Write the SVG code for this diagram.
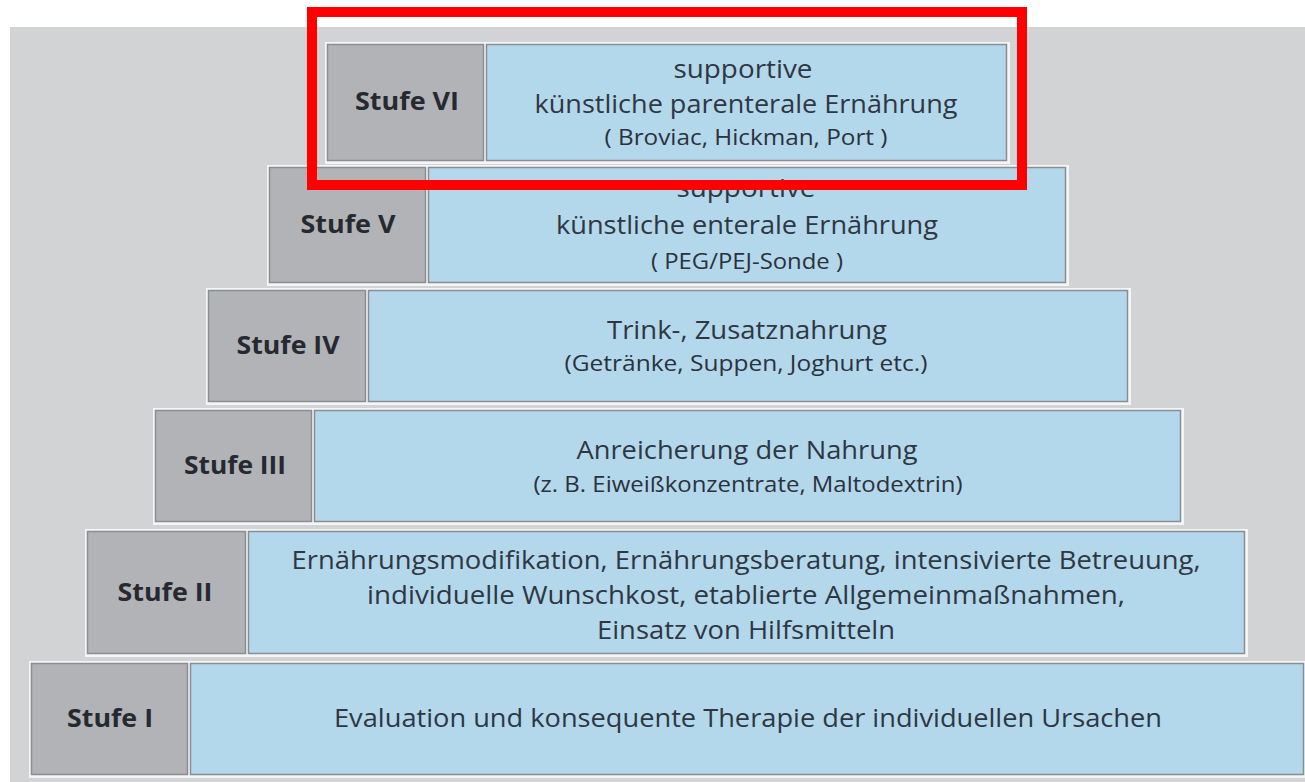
<svg xmlns="http://www.w3.org/2000/svg" width="1305" height="782" viewBox="0 0 1305 782">
<style>
.bg{fill:#d1d3d5}
.out{fill:#f4f5f6}
.lab{fill:#b1b3b6;stroke:#8a8e93;stroke-width:1.5}
.box{fill:#b3d7eb;stroke:#8a8e93;stroke-width:1.5}
.lt{font-family:"Open Sans","Noto Sans",sans-serif;font-weight:bold;font-size:25px;fill:#262a30;text-anchor:middle}
.t{font-family:"Open Sans","Noto Sans",sans-serif;font-size:26px;fill:#2f3743;text-anchor:middle}
.s{font-family:"Open Sans","Noto Sans",sans-serif;font-size:21px;fill:#2b323d;text-anchor:middle}
.hl{fill:none;stroke:#ff0000;stroke-width:10}
</style>
<rect x="0" y="0" width="1305" height="782" fill="#ffffff"/>
<rect class="bg" x="10" y="27" width="1295" height="755"/>
<g id="stufe-1">
<rect class="out" x="29" y="661" width="1276" height="117"/>
<rect class="lab" x="31.5" y="663.5" width="156" height="111"/>
<rect class="box" x="190.5" y="663.5" width="1113" height="111"/>
<text class="lt" x="110" y="727" textLength="86" lengthAdjust="spacingAndGlyphs">Stufe I</text>
<text class="t" x="748" y="727" textLength="828" lengthAdjust="spacingAndGlyphs">Evaluation und konsequente Therapie der individuellen Ursachen</text>
</g>
<g id="stufe-2">
<rect class="out" x="85" y="529" width="1163" height="128"/>
<rect class="lab" x="87.5" y="531.5" width="158" height="122"/>
<rect class="box" x="248.5" y="531.5" width="996" height="122"/>
<text class="lt" x="165" y="601" textLength="95" lengthAdjust="spacingAndGlyphs">Stufe II</text>
<text class="t" x="746" y="569" textLength="909" lengthAdjust="spacingAndGlyphs">Ernährungsmodifikation, Ernährungsberatung, intensivierte Betreuung,</text>
<text class="t" x="746" y="604" textLength="758" lengthAdjust="spacingAndGlyphs">individuelle Wunschkost, etablierte Allgemeinmaßnahmen,</text>
<text class="t" x="746" y="639" textLength="298" lengthAdjust="spacingAndGlyphs">Einsatz von Hilfsmitteln</text>
</g>
<g id="stufe-3">
<rect class="out" x="153" y="408" width="1031" height="117"/>
<rect class="lab" x="155.5" y="410.5" width="156" height="111"/>
<rect class="box" x="314.5" y="410.5" width="866" height="111"/>
<text class="lt" x="235" y="474" textLength="102" lengthAdjust="spacingAndGlyphs">Stufe III</text>
<text class="t" x="747" y="459" textLength="341" lengthAdjust="spacingAndGlyphs">Anreicherung der Nahrung</text>
<text class="s" x="748" y="492" textLength="429" lengthAdjust="spacingAndGlyphs">(z. B. Eiweißkonzentrate, Maltodextrin)</text>
</g>
<g id="stufe-4">
<rect class="out" x="206" y="288" width="925" height="117"/>
<rect class="lab" x="208.5" y="290.5" width="157" height="111"/>
<rect class="box" x="368.5" y="290.5" width="759" height="111"/>
<text class="lt" x="288" y="354" textLength="103" lengthAdjust="spacingAndGlyphs">Stufe IV</text>
<text class="t" x="747" y="339" textLength="280" lengthAdjust="spacingAndGlyphs">Trink-, Zusatznahrung</text>
<text class="s" x="746" y="371" textLength="363" lengthAdjust="spacingAndGlyphs">(Getränke, Suppen, Joghurt etc.)</text>
</g>
<g id="stufe-5">
<rect class="out" x="267" y="165" width="802" height="121"/>
<rect class="lab" x="269.5" y="167.5" width="156" height="115"/>
<rect class="box" x="428.5" y="167.5" width="637" height="115"/>
<text class="lt" x="348" y="233" textLength="95" lengthAdjust="spacingAndGlyphs">Stufe V</text>
<text class="t" x="746" y="197" textLength="139" lengthAdjust="spacingAndGlyphs">supportive</text>
<text class="t" x="747" y="234" textLength="382" lengthAdjust="spacingAndGlyphs">künstliche enterale Ernährung</text>
<text class="s" x="747" y="269" textLength="192" lengthAdjust="spacingAndGlyphs">( PEG/PEJ-Sonde )</text>
</g>
<g id="stufe-6">
<rect class="out" x="325" y="42" width="685" height="122"/>
<rect class="lab" x="327.5" y="44.5" width="156" height="116"/>
<rect class="box" x="486.5" y="44.5" width="520" height="116"/>
<text class="lt" x="407" y="110" textLength="104" lengthAdjust="spacingAndGlyphs">Stufe VI</text>
<text class="t" x="743" y="78" textLength="139" lengthAdjust="spacingAndGlyphs">supportive</text>
<text class="t" x="746" y="113" textLength="423" lengthAdjust="spacingAndGlyphs">künstliche parenterale Ernährung</text>
<text class="s" x="746" y="145" textLength="283" lengthAdjust="spacingAndGlyphs">( Broviac, Hickman, Port )</text>
</g>
<g id="connectors"></g>
<g id="highlight">
<rect class="hl" x="312" y="12" width="710" height="173"/>
</g>
</svg>
